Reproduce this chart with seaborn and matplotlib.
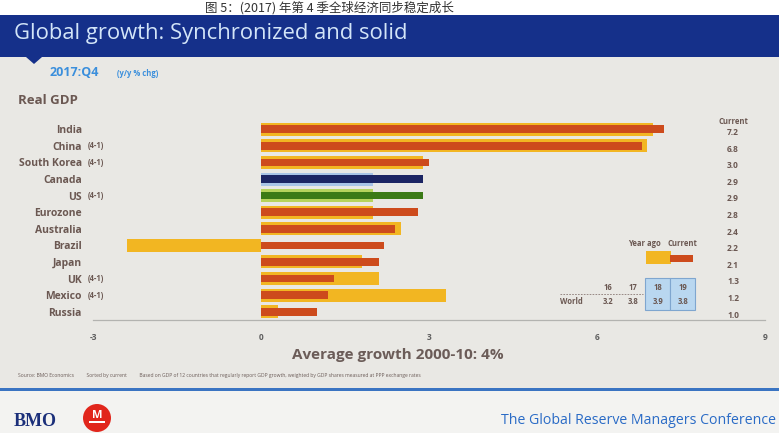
import matplotlib
matplotlib.use("Agg")
import matplotlib.pyplot as plt
import matplotlib.patches as mpatches
import matplotlib.transforms as mtransforms
import seaborn as sns
import pandas as pd

# ---- data ----
countries = ["India", "China", "South Korea", "Canada", "US", "Eurozone",
             "Australia", "Brazil", "Japan", "UK", "Mexico", "Russia"]
notes = ["", "(4-1)", "(4-1)", "", "(4-1)", "", "", "", "", "(4-1)", "(4-1)", ""]
current = [7.2, 6.8, 3.0, 2.9, 2.9, 2.8, 2.4, 2.2, 2.1, 1.3, 1.2, 1.0]
year_ago = [7.0, 6.9, 2.9, 2.0, 2.0, 2.0, 2.5, -2.4, 1.8, 2.1, 3.3, 0.3]
x_ticks = [-3, 0, 3, 6, 9]
table_years = ["16", "17", "18", "19"]
table_world = ["3.2", "3.8", "3.9", "3.8"]

RED = "#cd4b1c"
YEL = "#f2b622"
cur_colors = [RED] * 12
ya_colors = [YEL] * 12
cur_colors[3] = "#1c2563"; ya_colors[3] = "#a9c4e6"
cur_colors[4] = "#3b7a16"; ya_colors[4] = "#b6d35c"

df = pd.DataFrame({"country": countries, "current": current, "year_ago": year_ago})

W, H = 779, 433
sns.set_theme(style="white")
plt.rcParams["font.family"] = ["Open Sans", "DejaVu Sans"]
fig = plt.figure(figsize=(W / 100, H / 100), dpi=100)
fig.patch.set_facecolor("white")


def fx(x):
    return x / W


def fy(y):
    return 1 - y / H


def frect(x0, y0, x1, y1, color, z=0, **kw):
    r = mpatches.Rectangle((fx(x0), fy(y1)), fx(x1) - fx(x0), fy(y0) - fy(y1),
                           transform=fig.transFigure, facecolor=color,
                           edgecolor=kw.pop("ec", "none"), zorder=z, **kw)
    fig.patches.append(r)
    return r


# backgrounds
frect(0, 57, W, 390, "#e9e8e4", z=-10)
frect(0, 390, W, H, "#f3f3f1", z=-10)
frect(0, 15, W, 57, "#15308a", z=-5)
tri = mpatches.Polygon([(fx(26), fy(57)), (fx(42), fy(57)), (fx(34), fy(64))],
                       closed=True, transform=fig.transFigure,
                       facecolor="#15308a", edgecolor="none", zorder=-4)
fig.patches.append(tri)
frect(0, 388, W, 391, "#3a74c2", z=-4)

# Chinese caption at the top
fig.text(fx(205), fy(7.5), "图 5：(2017) 年第 4 季全球经济同步稳定成长",
         ha="left", va="center", fontsize=9, color="#333333",
         family=["Noto Sans CJK SC", "DejaVu Sans"])

# title
fig.text(fx(14), fy(34), "Global growth: Synchronized and solid", ha="left",
         va="center", fontsize=15.8, color="#d3e5f8")

# subtitle
fig.text(fx(50), fy(73), "2017:Q4", ha="left", va="center", fontsize=9,
         fontweight="bold", color="#3b8fdc")
fig.text(fx(117), fy(74), "(y/y % chg)", ha="left", va="center", fontsize=5.5,
         fontweight="bold", color="#3b8fdc")
LAB = "#6b5852"
fig.text(fx(18), fy(101), "Real GDP", ha="left", va="center", fontsize=9.5,
         fontweight="bold", color=LAB)

# ---- main axes ----
ax = fig.add_axes([fx(93), fy(320), fx(765) - fx(93), fy(121) - fy(320)])
ax.set_facecolor("none")
sns.barplot(data=df, y="country", x="year_ago", hue="country", palette=ya_colors,
            width=0.78, dodge=False, legend=False, saturation=1,
            linewidth=0, edgecolor="none", ax=ax)
sns.barplot(data=df, y="country", x="current", hue="country", palette=cur_colors,
            width=0.46, dodge=False, legend=False, saturation=1,
            linewidth=0, edgecolor="none", ax=ax)
ax.set_xlim(-3, 9)
ax.set_ylim(len(countries) - 0.5, -0.5)
ax.set_xlabel("")
ax.set_ylabel("")
ax.set_xticks(x_ticks)
ax.set_xticklabels([str(t) for t in x_ticks], fontsize=6, color="#5e5e5e",
                   fontweight="bold")
ax.tick_params(axis="x", length=0, pad=9)
ax.tick_params(axis="y", length=0, pad=8)
for lbl in ax.get_yticklabels():
    lbl.set_fontsize(7.5)
    lbl.set_fontweight("bold")
    lbl.set_color(LAB)
for s in ["top", "right", "left"]:
    ax.spines[s].set_visible(False)
ax.spines["bottom"].set_color("#b3b3b0")
ax.spines["bottom"].set_linewidth(0.9)

trans = mtransforms.blended_transform_factory(fig.transFigure, ax.transData)
for i, (n, v) in enumerate(zip(notes, current)):
    if n:
        ax.text(fx(88), i, n, transform=trans, ha="left", va="center",
                fontsize=5.5, fontweight="bold", color=LAB)
    ax.text(fx(733), i + 0.2, f"{v:.1f}", transform=trans, ha="center",
            va="center", fontsize=6, fontweight="bold", color=LAB)
fig.text(fx(733), fy(121), "Current", ha="center", va="center", fontsize=5.5,
         fontweight="bold", color=LAB)

# legend
fig.text(fx(628), fy(243), "Year ago", ha="left", va="center", fontsize=5.5,
         fontweight="bold", color=LAB)
fig.text(fx(668), fy(243), "Current", ha="left", va="center", fontsize=5.5,
         fontweight="bold", color=LAB)
frect(646, 251, 671, 264, YEL, z=2)
frect(670, 255, 693, 262, RED, z=3)

# world growth table
frect(645, 278, 670, 310, "#b9d7f0", z=1, ec="#7fa6cf", lw=0.8)
frect(670, 278, 695, 310, "#b9d7f0", z=1, ec="#7fa6cf", lw=0.8)
col_x = [608, 633, 658, 683]
for cx, yr, val in zip(col_x, table_years, table_world):
    fig.text(fx(cx), fy(287), yr, ha="center", va="center", fontsize=5.5,
             fontweight="bold", color=LAB, zorder=4)
    fig.text(fx(cx), fy(302), val, ha="center", va="center", fontsize=5.5,
             fontweight="bold", color=LAB, zorder=4)
fig.text(fx(560), fy(302), "World", ha="left", va="center", fontsize=5.5,
         fontweight="bold", color=LAB)
fig.lines.append(plt.Line2D([fx(560), fx(643)], [fy(294), fy(294)],
                            transform=fig.transFigure, color="#8a7a75",
                            lw=0.6, ls=(0, (2, 1.5))))

# bottom notes
fig.text(fx(398), fy(355), "Average growth 2000-10: 4%", ha="center",
         va="center", fontsize=11, fontweight="bold", color="#6b5c58")
fig.text(fx(18), fy(375),
         "Source: BMO Economics          Sorted by current          Based on GDP of 12 countries "
         "that regularly report GDP growth, weighted by GDP shares measured at PPP exchange rates",
         ha="left", va="center", fontsize=3.6, color="#6b5c58")

# footer
fig.text(fx(14), fy(421), "BMO", ha="left", va="center", fontsize=13,
         fontweight="bold", color="#1b2f7a",
         family=["Liberation Serif", "DejaVu Serif"])
circ = mpatches.Ellipse((fx(97), fy(418)), 28 / W, 28 / H,
                        transform=fig.transFigure, facecolor="#e1261c",
                        edgecolor="none", zorder=2)
fig.patches.append(circ)
fig.text(fx(97), fy(415), "M", ha="center", va="center", fontsize=8,
         fontweight="bold", color="white", zorder=3)
frect(89, 421, 105, 423, "white", z=3)
fig.text(fx(776), fy(421), "The Global Reserve Managers Conference", ha="right",
         va="center", fontsize=10.2, color="#2a6bc6")

fig.savefig("out.png", dpi=100, facecolor=fig.get_facecolor())
